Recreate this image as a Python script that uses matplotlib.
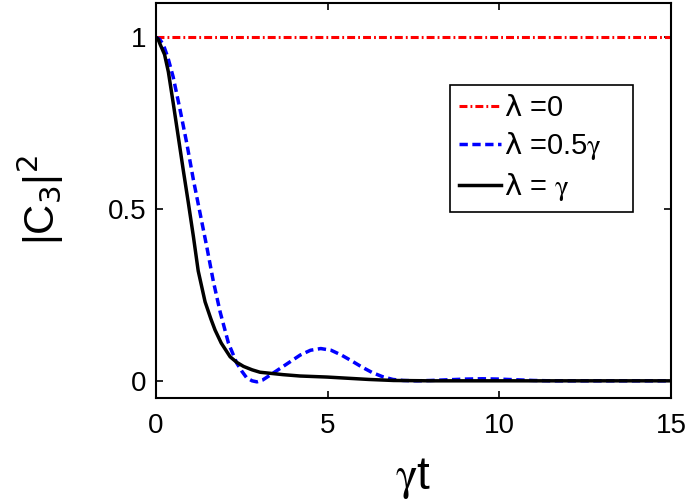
import matplotlib
matplotlib.use("Agg")
import matplotlib.pyplot as plt

plt.rcParams["font.family"] = ["Liberation Sans", "DejaVu Sans"]
plt.rcParams["mathtext.fontset"] = "custom"
plt.rcParams["mathtext.rm"] = "DejaVu Sans"
plt.rcParams["mathtext.sf"] = "STIXGeneral"
plt.rcParams["mathtext.default"] = "rm"

# lambda = 0 : reste a 1
t_red = [0, 15]
c_red = [1, 1]

# lambda = 0.5 gamma
t_blue = [0, 0.1, 0.21, 0.35, 0.5, 0.7, 0.9, 1.09, 1.28, 1.48, 1.67, 1.87,
          2.11, 2.35, 2.5, 2.64, 2.8, 2.94, 3.1, 3.3, 3.6, 3.9, 4.2, 4.5,
          4.8, 5.1, 5.4, 5.7, 6.0, 6.3, 6.6, 6.9, 7.2, 7.6, 8.0, 8.5, 9.0,
          9.5, 10.0, 10.5, 11.0, 11.5, 15]
c_blue = [1, 0.995, 0.98, 0.94, 0.885, 0.79, 0.69, 0.585, 0.49, 0.39, 0.29,
          0.20, 0.11, 0.052, 0.028, 0.009, 0.0, -0.003, 0.002, 0.015, 0.035,
          0.055, 0.075, 0.089, 0.094, 0.089, 0.075, 0.058, 0.04, 0.024, 0.012,
          0.004, 0.001, 0.0, 0.001, 0.003, 0.005, 0.006, 0.005, 0.003, 0.001,
          0.0, 0.0]

# lambda = gamma
t_black = [0, 0.06, 0.12, 0.25, 0.36, 0.5, 0.65, 0.8, 0.94, 1.09, 1.23, 1.43,
           1.6, 1.72, 1.9, 2.16, 2.35, 2.55, 2.8, 3.03, 3.32, 3.7, 4.2, 4.98,
           5.5, 6.2, 6.92, 8, 10, 12, 15]
c_black = [1, 0.995, 0.98, 0.95, 0.90, 0.81, 0.71, 0.61, 0.52, 0.42, 0.32,
           0.23, 0.18, 0.148, 0.11, 0.07, 0.054, 0.042, 0.032, 0.025, 0.022,
           0.018, 0.014, 0.011, 0.008, 0.004, 0.001, 0, 0, 0, 0]

labels = [r"$\lambda$ =0", r"$\lambda$ =0.5$\mathsf{\gamma}$",
          r"$\lambda$ = $\mathsf{\gamma}$"]

fig = plt.figure(figsize=(6.85, 5.0), dpi=100)
ax = fig.add_axes([0.2277, 0.204, 0.7519, 0.79])

ax.plot(t_red, c_red, color="red", lw=2.2,
        linestyle=(0, (2.6, 1.0, 0.6, 1.0)), label=labels[0])
ax.plot(t_blue, c_blue, color="blue", lw=2.5, linestyle=(0, (2.4, 1.3)),
        label=labels[1])
ax.plot(t_black, c_black, color="black", lw=2.5, label=labels[2])

ax.set_xlim(0, 15)
ax.set_ylim(-0.05, 1.1)
ax.set_xticks([0, 5, 10, 15])
ax.set_yticks([0, 0.5, 1])
ax.set_yticklabels(["0", "0.5", "1"])
ax.tick_params(direction="in", length=5, width=1.2, labelsize=20,
               top=True, right=True)
ax.tick_params(axis="x", pad=11)
ax.tick_params(axis="y", pad=7)
for s in ax.spines.values():
    s.set_linewidth(1.5)

ax.set_xlabel(r"$\mathsf{\gamma}$t", fontsize=33, labelpad=12)
ax.set_ylabel(r"|C$_3$|$^2$", fontsize=30, labelpad=30)

leg = ax.legend(loc="upper left",
                bbox_to_anchor=(450 / 685, 1 - 216 / 500, 183 / 685, 131 / 500),
                bbox_transform=fig.transFigure, mode="expand",
                fontsize=21, frameon=True, fancybox=False, edgecolor="black",
                framealpha=1, handlelength=1.45, handletextpad=0.1,
                labelspacing=0.3, borderpad=0.3, borderaxespad=0)
leg.get_frame().set_linewidth(1.2)

fig.savefig("out.png", dpi=100)
